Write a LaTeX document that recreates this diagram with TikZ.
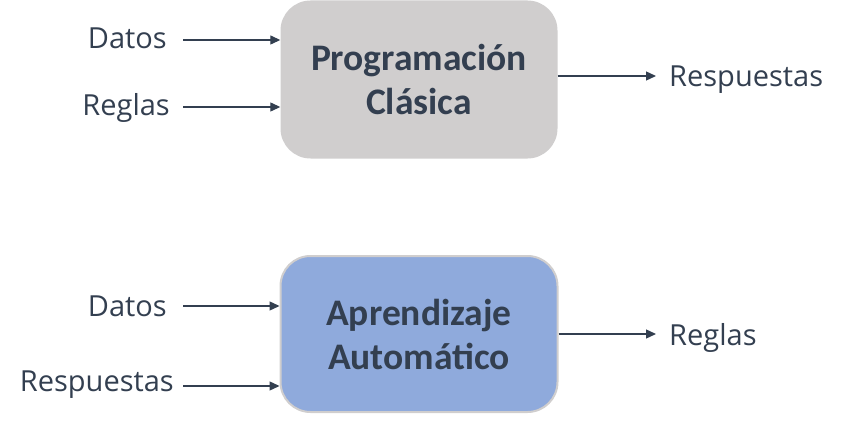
\documentclass[tikz,border=0pt]{standalone}
\usepackage{fontspec}
\setmainfont{Open Sans}
\newfontfamily\titlefont{Carlito}
\usetikzlibrary{arrows.meta}
\definecolor{txt}{HTML}{333F50}
\definecolor{grayfill}{HTML}{D0CECE}
\definecolor{bluefill}{HTML}{8FAADC}
\tikzset{
  box/.style={rounded corners=30pt, minimum width=277pt, inner sep=0pt, align=center,
    font=\titlefont\bfseries\fontsize{37.5}{44}\selectfont, text=txt},
  lbl/.style={font=\fontsize{29}{33}\selectfont, text=txt, inner sep=0pt},
  conn/.style={draw=txt, line width=1.3pt, -{Triangle[length=10pt,width=9pt]}},
}
\begin{document}
\begin{tikzpicture}[x=1pt,y=-1pt]
\useasboundingbox (0,0) rectangle (843,425);
\node[box, fill=grayfill, minimum height=158pt] (pc) at (419,79.5) {Programación\\Clásica};
\node[box, fill=bluefill, draw=grayfill, line width=2pt, minimum height=156pt] (aa) at (419,334) {Aprendizaje\\Automático};
% top inputs
\node[lbl, anchor=base east] (d1) at (167,49) {Datos};
\node[lbl, anchor=base east] (r1) at (170,116) {Reglas};
\node[lbl, anchor=base west] (o1) at (669,87) {Respuestas};
\coordinate (s1) at (183,40);
\coordinate (s2) at (183,107);
\coordinate (e1) at (656,76);
\draw[conn] (s1) -- (pc.west |- s1);
\draw[conn] (s2) -- (pc.west |- s2);
\draw[conn] (pc.east |- e1) -- (e1);
% bottom
\node[lbl, anchor=base east] (d2) at (167,316) {Datos};
\node[lbl, anchor=base east] (r2) at (174,391) {Respuestas};
\node[lbl, anchor=base west] (o2) at (669,345) {Reglas};
\coordinate (s3) at (183,306);
\coordinate (s4) at (183,386);
\coordinate (e2) at (656,334);
\draw[conn] (s3) -- (aa.west |- s3);
\draw[conn] (s4) -- (aa.west |- s4);
\draw[conn] (aa.east |- e2) -- (e2);
\end{tikzpicture}
\end{document}
